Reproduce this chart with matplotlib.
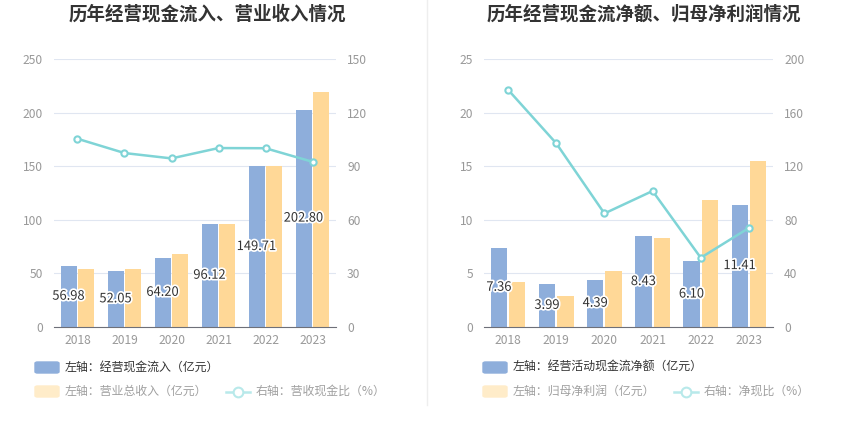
import matplotlib
matplotlib.use('Agg')
import matplotlib.pyplot as plt
from matplotlib.patches import FancyBboxPatch
from matplotlib.lines import Line2D
import matplotlib.patheffects as pe
import numpy as np

plt.rcParams['font.family'] = ['Noto Sans CJK SC', 'DejaVu Sans']

years = ['2018', '2019', '2020', '2021', '2022', '2023']

# 左图
cash_in = [56.98, 52.05, 64.20, 96.12, 149.71, 202.80]
revenue = [54.1, 53.5, 68.1, 96.0, 149.7, 219.4]
cash_ratio = [105.3, 97.3, 94.3, 100.1, 100.0, 92.4]

# 右图
net_cash = [7.36, 3.99, 4.39, 8.43, 6.10, 11.41]
net_profit = [4.16, 2.91, 5.19, 8.31, 11.84, 15.47]
net_ratio = [177.0, 137.0, 84.6, 101.4, 51.5, 73.8]

BLUE = '#8eaedb'
ORANGE = '#ffd897'
CYAN = '#7fd4d6'
GRID = '#e0e6f1'
TICK = '#999999'

W, H = 850, 437
fig = plt.figure(figsize=(W / 100, H / 100), dpi=100)


def px(x, y):
    return x / W, 1 - y / H


def draw_panel(x0, x1, title, title_x, legend_x, bars1, bars2, ratio, lmax, rmax, rstep,
               legend_texts):
    ax = fig.add_axes([x0 / W, (H - 326.7) / H, (x1 - x0) / W, 267.7 / H])
    x = np.arange(len(years))
    bw = 0.34
    ax.bar(x - 0.19, bars1, bw, color=BLUE, zorder=2)
    ax.bar(x + 0.19, bars2, bw, color=ORANGE, zorder=2)
    for xi, v in zip(x, bars1):
        ax.text(xi - 0.19, v / 2, f'{v:.2f}', ha='center', va='center', fontsize=9.3,
                color='#333333', zorder=5,
                path_effects=[pe.withStroke(linewidth=2.5, foreground='white')])
    ax.set_xlim(-0.5, len(years) - 0.5)
    ax.set_ylim(0, lmax)
    ax.set_yticks(np.linspace(0, lmax, 6))
    ax.set_xticks(x)
    ax.set_xticklabels(years)
    ax.grid(axis='y', color=GRID, linewidth=0.8, zorder=0)
    for s in ['top', 'left', 'right']:
        ax.spines[s].set_visible(False)
    ax.spines['bottom'].set_color('#6e7079')
    ax.tick_params(axis='y', length=0, labelsize=8.7, labelcolor=TICK, pad=8)
    ax.tick_params(axis='x', length=0, labelsize=8.7, labelcolor=TICK, pad=5)

    ax2 = ax.twinx()
    ax2.plot(x, ratio, color=CYAN, linewidth=1.8, marker='o', markersize=4.5,
             markerfacecolor='white', markeredgecolor=CYAN, markeredgewidth=1.5, zorder=4)
    ax2.set_ylim(0, rmax)
    ax2.set_yticks(np.arange(0, rmax + 1, rstep))
    for s in ['top', 'left', 'right', 'bottom']:
        ax2.spines[s].set_visible(False)
    ax2.tick_params(axis='y', length=0, labelsize=8.7, labelcolor=TICK, pad=8)

    fig.text(*px(title_x, 14), title, ha='center', va='center', fontsize=13.3,
             fontweight='bold', color='#333333')

    # 图例
    lx = legend_x
    fig.patches.append(FancyBboxPatch(px(lx, 373), 24 / W, 11 / H,
                                      boxstyle='round,pad=0,rounding_size=0.003',
                                      transform=fig.transFigure, color=BLUE))
    fig.text(*px(lx + 30, 367.5), legend_texts[0], ha='left', va='center',
             fontsize=8.6, color='#333333')
    fig.patches.append(FancyBboxPatch(px(lx, 397), 24 / W, 11 / H,
                                      boxstyle='round,pad=0,rounding_size=0.003',
                                      transform=fig.transFigure, color='#ffecc9'))
    t = fig.text(*px(lx + 30, 391.5), legend_texts[1], ha='left', va='center',
                 fontsize=8.6, color='#a0a0a0')
    fig.canvas.draw()
    end_x = t.get_window_extent().x1
    mx0 = end_x + 18
    ly = (H - 391.5) / H
    fig.lines.append(Line2D([mx0 / W, (mx0 + 24) / W], [ly, ly], transform=fig.transFigure,
                            color='#b8e9ea', linewidth=1.8))
    fig.lines.append(Line2D([(mx0 + 12) / W], [ly], transform=fig.transFigure,
                            color='#b8e9ea', marker='o', markersize=7,
                            markerfacecolor='white', markeredgewidth=1.5))
    fig.text((mx0 + 30) / W, ly, legend_texts[2], ha='left', va='center',
             fontsize=8.6, color='#a0a0a0')


draw_panel(54, 336, '历年经营现金流入、营业收入情况', 207, 35, cash_in, revenue, cash_ratio,
           250, 150, 30,
           ['左轴：经营现金流入（亿元）', '左轴：营业总收入（亿元）', '右轴：营收现金比（%）'])
draw_panel(484, 773, '历年经营现金流净额、归母净利润情况', 644, 483, net_cash, net_profit,
           net_ratio, 25, 200, 40,
           ['左轴：经营活动现金流净额（亿元）', '左轴：归母净利润（亿元）', '右轴：净现比（%）'])

fig.lines.append(Line2D([427 / W, 427 / W], [1 - 405 / H, 1.0], transform=fig.transFigure,
                        color='#eeeeee', linewidth=1))

fig.savefig('out.png', dpi=100, facecolor='white')
